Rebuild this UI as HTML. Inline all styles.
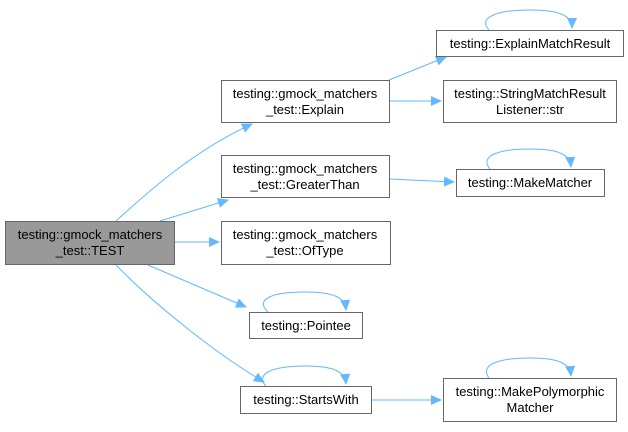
<!DOCTYPE html>
<html><head><style>body{margin:0;background:#fff}svg text{font-family:"Liberation Sans",Arial,sans-serif;font-size:13px;fill:#000}</style></head>
<body>
<svg width="628" height="427" viewBox="0 0 628 427" xmlns="http://www.w3.org/2000/svg">
<defs><marker id="a" markerWidth="11" markerHeight="10" refX="10" refY="5" orient="auto" markerUnits="userSpaceOnUse"><path d="M0,0 L11,5 L0,10 z" fill="#63b8ff"/></marker></defs>
<g fill="none" stroke="#63b8ff" stroke-width="1" marker-end="url(#a)">
<path d="M116,221 C150,190 195,150 252,124"/>
<path d="M160,221 L228,200"/>
<path d="M174,242 L219,242"/>
<path d="M148,265 L246,307"/>
<path d="M116,265 C150,300 210,350 264,382"/>
<path d="M389,80 L446,57"/>
<path d="M389,101 L441,101"/>
<path d="M389,179 L454,182"/>
<path d="M371,400 L441,400"/>
<path d="M268,312 C255,300 270,292 305,292 C335,292 345,298 346,310"/>
<path d="M266,386 C255,375 270,366 305,366 C335,366 345,372 346,384"/>
<path d="M489,30 C478,18 495,10 530,10 C560,10 572,16 572,28"/>
<path d="M490,169 C480,157 495,149 530,149 C560,149 570,155 571,167"/>
<path d="M489,378 C480,366 495,358 530,358 C560,358 570,364 571,376"/>
</g>
<g stroke="#666" stroke-width="1">
<rect x="5.5" y="221.5" width="169" height="43" fill="#999"/>
<rect x="221.5" y="80.5" width="168" height="42" fill="#fff"/>
<rect x="221.5" y="155.5" width="168" height="42" fill="#fff"/>
<rect x="221.5" y="221.5" width="169" height="43" fill="#fff"/>
<rect x="249.5" y="312.5" width="113" height="26" fill="#fff"/>
<rect x="240.5" y="386.5" width="131" height="27" fill="#fff"/>
<rect x="443.5" y="378.5" width="173" height="43" fill="#fff"/>
<rect x="436.5" y="30.5" width="187" height="26" fill="#fff"/>
<rect x="443.5" y="80.5" width="173" height="42" fill="#fff"/>
<rect x="456.5" y="169.5" width="148" height="27" fill="#fff"/>
</g>
<g text-anchor="middle">
<text x="90" y="239">testing::gmock_matchers</text><text x="90" y="255">_test::TEST</text>
<text x="305" y="98">testing::gmock_matchers</text><text x="305" y="114">_test::Explain</text>
<text x="305" y="173">testing::gmock_matchers</text><text x="305" y="189">_test::GreaterThan</text>
<text x="305" y="239">testing::gmock_matchers</text><text x="305" y="255">_test::OfType</text>
<text x="306" y="330">testing::Pointee</text>
<text x="306" y="404">testing::StartsWith</text>
<text x="530" y="396">testing::MakePolymorphic</text><text x="530" y="412">Matcher</text>
<text x="530" y="48">testing::ExplainMatchResult</text>
<text x="530" y="98">testing::StringMatchResult</text><text x="530" y="114">Listener::str</text>
<text x="530" y="187">testing::MakeMatcher</text>
</g>
</svg>
</body></html>
